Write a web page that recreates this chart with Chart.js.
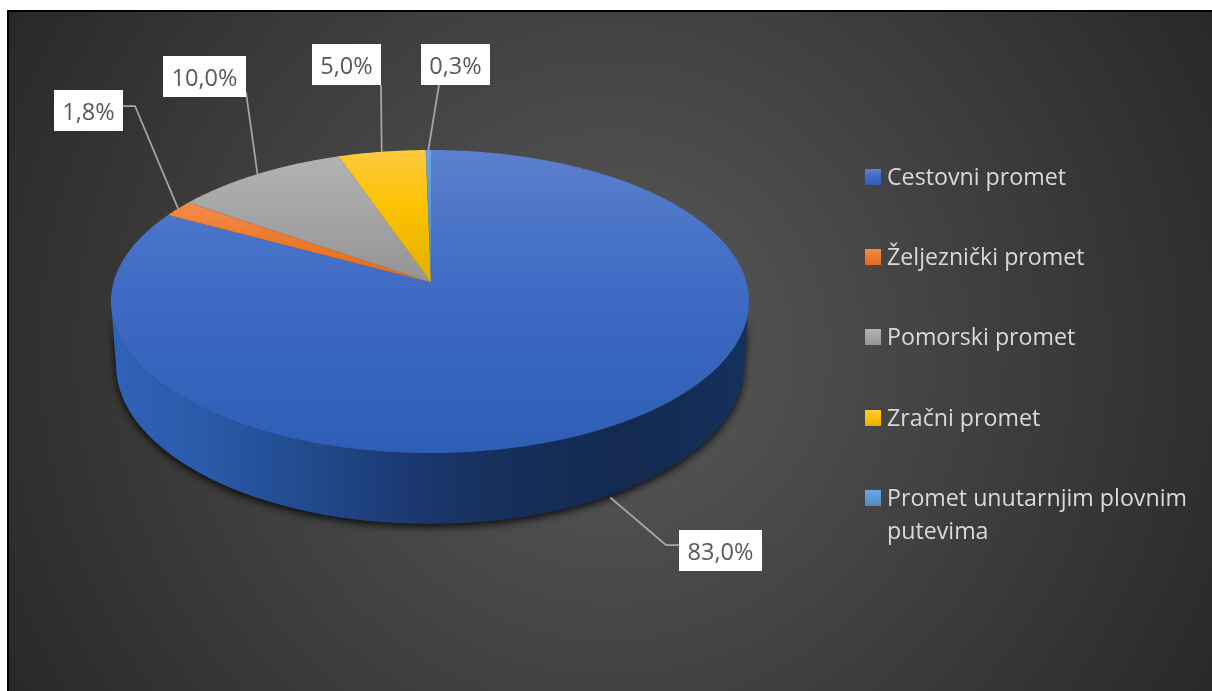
<!DOCTYPE html>
<html><head><meta charset="utf-8">
<style>html,body{margin:0;padding:0;background:#fff}canvas{display:block}</style>
<script src="https://cdn.jsdelivr.net/npm/chart.js@4"></script>
</head><body>
<canvas id="c" width="1212" height="691"></canvas>
<script>
const categories = ['Cestovni promet','Željeznički promet','Pomorski promet','Zračni promet','Promet unutarnjim plovnim putevima'];
const shares = [83.0, 1.8, 10.0, 5.0, 0.3];
const baseColors = ['#4472C4','#ED7D31','#A5A5A5','#FFC000','#5B9BD5'];
const faceShades = [
  ['#5b80cd','#3e6bc4','#2e5eb5'],
  ['#f18d4e','#ee7a2c','#e76a1e'],
  ['#b2b2b2','#a5a5a5','#949494'],
  ['#fdc93f','#fcc200','#e2ae00'],
  ['#6aa6dc','#5b9bd5','#4f8ac2']
];
const LABEL_FONT = '23.5px "Open Sans"';
const LEGEND_FONT = '23.2px "Open Sans"';
const view = {stretch: 319/151.5, apexShift: 0.125, apexNudge: 1, depth: 71, baseDrop: 63.5, baseRadius: 159/151.5, baseShrink: 5};
const labelBoxes = [[679,530,83,41],[54,90,69,41],[163,56,83,41],[312,44,69,41],[421,44,69,41]];
const labelElbows = [[666,545,679,545],[135,106,123,106],[246,92,246,92],[381,85,381,85],[439,85,439,85]];
const legendLayout = {x:865, size:16, textX:887, rows:[169,249,329,410,490], lineGap:33, maxWidth:312};

function project(arc, angle){
  const t = angle + Math.PI/2, d = view.apexShift;
  const x = Math.sin(t), y = Math.cos(t), w = 1 + d*y;
  const u = x*Math.sqrt(1-d*d)/w, v = (y+d)/w;
  const R = arc.outerRadius;
  return {x: arc.x + u*R*view.stretch, y: arc.y - v*R, v};
}
const pie3d = {
  id:'pie3d',
  beforeDraw(chart){
    const c = chart.ctx, W = chart.width, H = chart.height;
    c.save();
    c.fillStyle='#fff'; c.fillRect(0,0,W,H);
    c.fillStyle='#000'; c.fillRect(7,10,W-7,H-10);
    const g = c.createRadialGradient(610,350,0,610,350,700);
    g.addColorStop(0,'#5a5a5a'); g.addColorStop(1,'#282828');
    c.fillStyle=g; c.fillRect(9,12,W-9,H-12);
    c.restore();
  },
  beforeDatasetDraw(){ return false; },
  afterDatasetsDraw(chart){
    const c = chart.ctx, arcs = chart.getDatasetMeta(0).data;
    const a0 = arcs[0], R = a0.outerRadius, rx = R*view.stretch, cx = a0.x, cy = a0.y;
    const bx = rx - view.baseShrink, by = cy + view.baseDrop, bR = R*view.baseRadius;
    // side wall
    c.save();
    const wall = c.createLinearGradient(cx-bx,0,cx+bx,0);
    [[0,'#2f63b8'],[.14,'#2a5aa9'],[.3,'#224b8f'],[.45,'#1c3a73'],[.6,'#16305c'],[.8,'#142a50'],[1,'#15305c']]
      .forEach(s=>wall.addColorStop(s[0],s[1]));
    const trace = ()=>{
      c.beginPath();
      c.ellipse(cx,by,bx,bR,0,Math.PI,0,true);
      c.lineTo(cx+rx,cy);
      c.ellipse(cx,cy,rx,R,0,0,Math.PI,false);
      c.closePath();
    };
    c.shadowColor='rgba(0,0,0,0.85)'; c.shadowBlur=9; c.shadowOffsetY=3; c.shadowOffsetX=0;
    c.fillStyle=wall; trace(); c.fill();
    c.restore();
    // top face
    const apex = {x:cx+view.apexNudge, y:cy - view.apexShift*R};
    arcs.forEach((arc,i)=>{
      const pts=[], n=Math.max(4,Math.ceil((arc.endAngle-arc.startAngle)*120));
      for(let k=0;k<=n;k++) pts.push(project(arc, arc.startAngle+(arc.endAngle-arc.startAngle)*k/n));
      const ys = pts.map(p=>p.y).concat(apex.y);
      const g = c.createLinearGradient(0,Math.min(...ys),0,Math.max(...ys));
      g.addColorStop(0,faceShades[i][0]); g.addColorStop(.45,faceShades[i][1]); g.addColorStop(1,faceShades[i][2]);
      c.beginPath(); c.moveTo(apex.x,apex.y); pts.forEach(p=>c.lineTo(p.x,p.y)); c.closePath();
      c.fillStyle=g; c.fill();
    });
    // leader lines + labels
    c.save();
    c.font=LABEL_FONT; c.textAlign='center'; c.textBaseline='alphabetic';
    arcs.forEach((arc,i)=>{
      const p = project(arc,(arc.startAngle+arc.endAngle)/2);
      const ay = p.v<0 ? p.y+view.depth : p.y, e = labelElbows[i];
      c.strokeStyle='#a6a6a6'; c.lineWidth=1.75;
      c.beginPath(); c.moveTo(p.x,ay); c.lineTo(e[0],e[1]); c.lineTo(e[2],e[3]); c.stroke();
    });
    arcs.forEach((arc,i)=>{
      const b = labelBoxes[i];
      c.fillStyle='#fff'; c.fillRect(b[0],b[1],b[2],b[3]);
      c.fillStyle='#595959';
      c.fillText(shares[i].toFixed(1).replace('.',',')+'%', b[0]+b[2]/2, b[1]+30);
    });
    c.restore();
    // legend
    c.save();
    c.font=LEGEND_FONT; c.textAlign='left'; c.textBaseline='alphabetic';
    categories.forEach((name,i)=>{
      const L=legendLayout, top=L.rows[i];
      const g=c.createLinearGradient(0,top,0,top+L.size);
      g.addColorStop(0,faceShades[i][0]); g.addColorStop(.5,faceShades[i][1]); g.addColorStop(1,faceShades[i][2]);
      c.fillStyle=g; c.fillRect(L.x,top,L.size,L.size);
      c.fillStyle='#d9d9d9';
      const lines=[]; let cur='';
      name.split(' ').forEach(w=>{
        const t=cur?cur+' '+w:w;
        if(c.measureText(t).width>L.maxWidth && cur){lines.push(cur);cur=w;} else cur=t;
      });
      lines.push(cur);
      lines.forEach((t,k)=>c.fillText(t,L.textX,top+15.5+k*L.lineGap));
    });
    c.restore();
  }
};
new Chart(document.getElementById('c'),{
  type:'pie',
  data:{labels:categories,datasets:[{data:shares,backgroundColor:baseColors,borderWidth:0}]},
  options:{
    responsive:false,animation:false,rotation:0.2,
    layout:{padding:{top:150,bottom:238,left:111,right:463}},
    plugins:{legend:{display:false},tooltip:{enabled:false}}
  },
  plugins:[pie3d]
});
</script>
</body></html>
